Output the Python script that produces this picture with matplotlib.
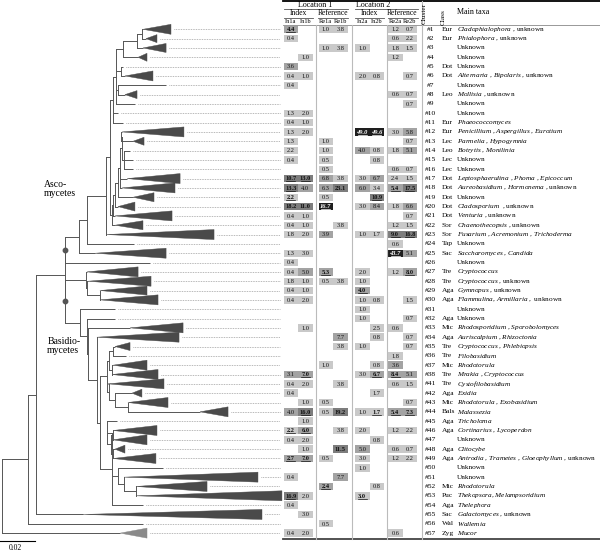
import matplotlib
matplotlib.use("Agg")
import matplotlib.pyplot as plt
from matplotlib.patches import Rectangle, Polygon

plt.rcParams['font.family'] = 'Liberation Serif'
plt.rcParams['mathtext.fontset'] = 'custom'
plt.rcParams['mathtext.rm'] = 'Liberation Serif'
plt.rcParams['mathtext.it'] = 'Liberation Serif:italic'
plt.rcParams['mathtext.bf'] = 'Liberation Serif:bold'

# ---- data -------------------------------------------------------------
clusters = list(range(1, 39)) + list(range(41, 58))

classes = {1: "Eur", 2: "Eur", 5: "Dot", 6: "Dot", 8: "Leo", 11: "Eur", 12: "Eur", 13: "Lec",
           14: "Leo", 15: "Lec", 16: "Lec", 17: "Dot", 18: "Dot", 19: "Dot", 20: "Dot", 21: "Dot",
           22: "Sor", 23: "Sor", 24: "Tap", 25: "Sac", 27: "Tre", 28: "Tre", 29: "Aga", 30: "Aga",
           32: "Aga", 33: "Mic", 34: "Aga", 35: "Tre", 36: "Tre", 37: "Mic", 38: "Tre", 41: "Tre",
           42: "Aga", 43: "Mic", 44: "Bals", 45: "Aga", 46: "Aga", 48: "Aga", 49: "Aga", 52: "Mic",
           53: "Puc", 54: "Aga", 55: "Sac", 56: "Wal", 57: "Zyg"}

taxa = {1: "$Cladophialophora$ , unknown", 2: "$Phialophora$ , unknown", 6: "$Alternaria$ , $Bipolaris$ , unknown",
        8: "$Mollisia$ , unknown", 11: "$Phaeococcomyces$", 12: "$Penicillium$ , $Aspergillus$ , $Eurotium$",
        13: "$Parmelia$ , $Hypogymnia$", 14: "$Botrytis$ , $Monilinia$",
        17: "$Leptosphaerulina$ , $Phoma$ , $Epicoccum$", 18: "$Aureobasidium$ , $Hormonema$ , unknown",
        20: "$Cladosporium$  , unknown", 21: "$Venturia$ , unknown", 22: "$Chaenothecopsis$ , unknown",
        23: "$Fusarium$ , $Acremonium$ , $Trichoderma$", 25: "$Saccharomyces$ , $Candida$",
        27: "$Cryptococcus$", 28: "$Cryptococcus$ , unknown", 29: "$Gymnopus$ , unknown",
        30: "$Flammulina$, $Armillaria$ ,  unknown", 33: "$Rhodosporidium$ , $Sporobolomyces$",
        34: "$Auriscalpium$ , $Rhizoctonia$", 35: "$Cryptococcus$ , $Phlebiopsis$", 36: "$Filobasidium$",
        37: "$Rhodotorula$", 38: "$Mrakia$ , $Cryptococcus$", 41: "$Cystofilobasidium$", 42: "$Exidia$",
        43: "$Rhodotorula$ , $Exobasidium$", 44: "$Malassezia$", 45: "$Tricholoma$",
        46: "$Cortinarius$ , $Lycoperdon$", 48: "$Clitocybe$",
        49: "$Antrodia$ , $Trametes$ , $Gloeophyllum$ , unknown", 52: "$Rhodotorula$",
        53: "$Thekopsora$, $Melampsoridium$", 54: "$Thelephora$", 55: "$Galactomyces$ , unknown",
        56: "$Wallemia$", 57: "$Mucor$"}

col_names = ["In1a", "In1b", "Re1a", "Re1b", "In2a", "In2b", "Re2a", "Re2b"]

In1a = {1: 4.4, 2: 0.4, 5: 3.6, 6: 0.4, 7: 0.4, 10: 1.3, 11: 0.4, 12: 1.3, 13: 1.3, 14: 2.2, 15: 0.4,
        17: 10.7, 18: 13.3, 19: 2.2, 20: 18.2, 21: 0.4, 22: 0.4, 23: 1.8, 25: 1.3, 26: 0.4, 27: 0.4,
        28: 1.8, 29: 0.4, 30: 0.4, 38: 3.1, 41: 0.4, 42: 0.4, 44: 4.0, 46: 2.2, 47: 0.4, 49: 2.7,
        51: 0.4, 53: 16.9, 54: 0.4, 57: 0.4}
In1b = {4: 1.0, 6: 1.0, 10: 2.0, 11: 1.0, 12: 2.0, 17: 13.0, 18: 4.0, 20: 11.0, 21: 1.0, 22: 1.0,
        23: 2.0, 25: 3.0, 27: 5.0, 28: 1.0, 29: 1.0, 30: 2.0, 33: 1.0, 38: 7.0, 41: 2.0, 43: 1.0,
        44: 16.0, 45: 1.0, 46: 6.0, 47: 2.0, 48: 1.0, 49: 7.0, 53: 2.0, 55: 3.0, 57: 2.0}
Re1a = {1: 1.0, 3: 1.0, 13: 1.0, 14: 1.0, 15: 0.5, 16: 0.5, 17: 6.8, 18: 6.3, 19: 0.5, 20: 16.7,
        23: 3.9, 27: 5.3, 28: 0.5, 37: 1.0, 43: 0.5, 44: 0.5, 49: 0.5, 52: 2.4, 56: 0.5}
Re1b = {1: 3.8, 3: 3.8, 17: 3.8, 18: 23.1, 22: 3.8, 28: 3.8, 34: 7.7, 35: 3.8, 41: 3.8, 44: 19.2,
        46: 3.8, 48: 11.5, 51: 7.7}
In2a = {3: 1.0, 6: 2.0, 12: 49.0, 14: 4.0, 17: 3.0, 18: 6.0, 20: 3.0, 23: 1.0, 27: 2.0, 28: 1.0,
        29: 4.0, 30: 1.0, 31: 1.0, 32: 1.0, 35: 1.0, 38: 3.0, 44: 1.0, 46: 2.0, 48: 5.0, 49: 3.0,
        50: 1.0, 53: 3.0}
In2b = {6: 0.8, 12: 49.6, 14: 0.8, 15: 0.8, 17: 6.7, 18: 3.4, 19: 10.9, 20: 8.4, 23: 1.7, 30: 0.8,
        33: 2.5, 34: 0.8, 37: 0.8, 38: 6.7, 42: 1.7, 44: 1.7, 47: 0.8, 52: 0.8}
Re2a = {1: 1.2, 2: 0.6, 3: 1.8, 4: 1.2, 8: 0.6, 12: 3.0, 14: 1.8, 16: 0.6, 17: 2.4, 18: 5.4, 20: 1.8,
        22: 1.2, 23: 9.0, 24: 0.6, 25: 43.7, 27: 1.2, 33: 0.6, 36: 1.8, 37: 3.6, 38: 8.4, 41: 0.6,
        44: 5.4, 46: 1.2, 48: 0.6, 49: 1.2, 57: 0.6}
Re2b = {1: 0.7, 2: 2.2, 3: 1.5, 6: 0.7, 8: 0.7, 9: 0.7, 12: 5.8, 13: 0.7, 14: 5.1, 16: 0.7, 17: 1.5,
        18: 17.5, 20: 6.6, 21: 0.7, 22: 1.5, 23: 16.8, 25: 5.1, 27: 8.0, 30: 1.5, 32: 0.7, 34: 0.7,
        35: 0.7, 38: 5.1, 41: 1.5, 43: 0.7, 44: 7.3, 46: 2.2, 48: 0.7, 49: 2.2}
columns = [In1a, In1b, Re1a, Re1b, In2a, In2b, Re2a, Re2b]

# shading limits per column (light / mid / dark / black)
shade_limits = [(2.5, 9, 30), (3.5, 9, 30), (2, 9, 15), (5, 10, 30),
                (3.5, 9, 30), (3.5, 9.5, 30), (3.5, 8.8, 30), (5.0, 9, 30)]

underlined = [(1, 0), (12, 4), (12, 5), (17, 0), (17, 1), (18, 0), (18, 6), (18, 7), (19, 0), (19, 5),
              (20, 2), (23, 6), (23, 7), (25, 6), (27, 2), (27, 7), (29, 4), (38, 1), (38, 5), (38, 6),
              (44, 1), (44, 5), (44, 6), (44, 7), (46, 0), (46, 1), (49, 0), (49, 1), (52, 2), (53, 0),
              (53, 4)]


# tree: distances from root in 0.001 substitutions per site
def N(x, *kids, dot=False):
    return {"x": x, "kids": list(kids), "dot": dot}


def L(c, x, tip=None, h=4.5):
    return {"c": c, "x": x, "tip": tip, "h": h}


asco = N(37.4,
         N(45.1,
           N(49.7,
             N(60.6,
               N(62.9,
                 N(64.6,
                   N(66.3,
                     N(70.1, N(78.1, N(81.0, L(1, 81.7, 97.7, 5), L(2, 83.4, 89.7, 4)), L(3, 81.7, 94.9)),
                       L(4, 78.9, 84.0, 4)),
                     N(69.1, L(5, 70.3), L(6, 71.4, 87.4, 5)),
                     N(67.4, L(7, 94.9), L(8, 71.4, 78.3, 4)),
                     L(9, 77.1)),
                   L(10, 67.4), L(11, 70.3)),
                 N(64.0,
                   N(64.6,
                     N(65.7,
                       N(67.4,
                         N(68.6,
                           N(69.7, N(69.1, L(12, 69.7, 105.1, 5), L(13, 76.0, 82.3, 4)),
                             N(70.9, L(14, 74.3), L(15, 76.0), L(16, 76.0))),
                           L(17, 72.6, 102.9, 5), L(18, 69.7, 100.0, 5)),
                         L(19, 76.0, 88.0)),
                       L(20, 67.4, 77.1)),
                     L(21, 65.7, 98.3, 5)),
                   L(22, 65.7, 81.7))),
               L(23, 60.6, 122.3, 5)),
             L(24, 76.6)),
           L(25, 54.3, 94.9, 5)),
         L(26, 85.7), dot=True)

basidio = N(37.4,
            N(49.1, L(27, 49.7, 78.9, 5),
              N(49.7, L(28, 50.3, 86.3, 5), N(57.1, L(29, 57.1, 84.0), L(30, 57.1, 90.3, 5)))),
            N(45.7, L(31, 65.7),
              N(49.7, L(32, 65.7),
                N(50.3, L(33, 74.3, 104.6, 5),
                  N(55.4, L(34, 55.4, 102.3, 5),
                    N(57.1,
                      N(61.1,
                        N(62.3, N(64.6, L(35, 65.7, 74.3, 4), L(36, 72.0)),
                          N(64.0, L(37, 64.6, 84.0, 5), L(38, 64.0, 90.3, 5))),
                        N(62.3, L(41, 61.7, 93.7, 5),
                          N(65.7, L(42, 75.4, 81.1, 4),
                            N(73.1, L(43, 73.1, 96.0, 5), L(44, 114.3, 130.3, 5))))),
                      N(64.0,
                        N(61.1, L(45, 66.9),
                          N(63.4, N(64.6, L(46, 64.6, 89.7, 5), L(47, 64.6, 84.0, 5)),
                            N(64.6, L(48, 65.7, 71.4, 4), L(49, 64.6, 89.1, 5)))),
                        N(67.4, L(50, 93.1),
                          N(70.9, L(51, 70.9, 147.4, 5),
                            N(77.7, L(52, 77.7, 118.3, 5), L(53, 77.7, 161.1, 5)))),
                        L(54, 81.7))))))),
            dot=True)

tree = N(0.9,
         N(16.0,
           N(20.4, N(37.1, asco, basidio), L(55, 47.4, 149.7, 5)),
           L(56, 81.7)),
         L(57, 68.6, 84.0, 5))

# ---- layout -----------------------------------------------------------
fig = plt.figure(figsize=(6.0, 5.51), dpi=100)
ax = fig.add_axes([0, 0, 1, 1])
ax.set_xlim(0, 600)
ax.set_ylim(551, 0)
ax.axis("off")

tax = fig.add_axes([0, 0, 283 / 600, 1])
tax.set_xlim(0, 161.7)
tax.set_ylim(551, 0)
tax.axis("off")
tax.patch.set_alpha(0)


def row_y(c):
    return 29.3 + 9.33 * clusters.index(c)


line_col = "#555555"
tri_col = "#4a4a4a"


def draw(node, px):
    if "c" in node:
        y = row_y(node["c"])
        tax.plot([px, node["x"]], [y, y], color=line_col, lw=0.7, solid_capstyle="butt")
        end = node["x"]
        if node["tip"] is not None:
            col = "#8a8a8a" if node["c"] == 57 else tri_col
            tax.add_patch(Polygon([(node["x"], y), (node["tip"], y - node["h"]), (node["tip"], y + node["h"])],
                                  closed=True, facecolor=col, edgecolor=col, lw=0.3))
            end = node["tip"]
        if end < 159:
            tax.plot([end + 1.5, 160], [y, y], color="#777777", lw=0.5, ls=(0, (1, 1.4)))
        return y
    ys = [draw(k, node["x"]) for k in node["kids"]]
    tax.plot([node["x"], node["x"]], [min(ys), max(ys)], color=line_col, lw=0.7)
    y = (ys[0] + ys[-1]) / 2
    tax.plot([px, node["x"]], [y, y], color=line_col, lw=0.7, solid_capstyle="butt")
    if node["dot"]:
        tax.plot(node["x"], y, "o", color="#555555", ms=3.2)
    return y


draw(tree, tree["x"])

# scale bar
tax.plot([0.2, 20.2], [541, 541], color="black", lw=0.8)
tax.text(8.5, 548.5, "0.02", ha="center", va="center", fontsize=5.5)

tax.text(25, 189, "Asco-\nmycetes", ha="left", va="center", fontsize=7, linespacing=1.0)
tax.text(27, 346, "Basidio-\nmycetes", ha="left", va="center", fontsize=7, linespacing=1.0)

# ---- table ------------------------------------------------------------
col_x = [283.5, 298, 318.5, 333, 355, 369.5, 388, 402.5]
cw, ch = 14.5, 7.4
shades = ["#c9c9c9", "#a3a3a3", "#7d7d7d", "#1e1e1e"]

for j, col in enumerate(columns):
    for c, v in col.items():
        y = row_y(c)
        lev = sum(v >= t for t in shade_limits[j])
        ax.add_patch(Rectangle((col_x[j], y - ch / 2), cw, ch, facecolor=shades[lev], edgecolor="none"))
        txt = "%.1f" % v
        ul = (c, j) in underlined
        tcol = "white" if lev == 3 else "#111111"
        weight = "bold" if lev >= 2 or ul else "normal"
        style = "italic" if lev == 3 else "normal"
        ax.text(col_x[j] + cw / 2, y + 0.3, txt, ha="center", va="center", fontsize=4.6,
                color=tcol, fontweight=weight, fontstyle=style)
        if ul:
            ax.plot([col_x[j] + cw / 2 - 4.5, col_x[j] + cw / 2 + 4.5], [y + 2.9, y + 2.9],
                    color=tcol, lw=0.5)

for c in clusters:
    y = row_y(c)
    ax.text(430.5, y, "#%d" % c, ha="center", va="center", fontsize=5.4)
    if c in classes:
        ax.text(442, y, classes[c], ha="left", va="center", fontsize=5.4)
    ax.text(457, y, taxa.get(c, "Unknown"), ha="left", va="center", fontsize=5.2)

# header and rules
ax.plot([283, 600], [1.2, 1.2], color="black", lw=1.3)
ax.plot([283, 600], [539, 539], color="#444444", lw=1.3)
ax.plot([283, 600], [25.3, 25.3], color="#888888", lw=0.6)
for x0, x1 in [(284, 348), (355, 418)]:
    ax.plot([x0, x1], [9.3, 9.3], color="#555555", lw=0.6)
for x0, x1 in [(284, 313), (318, 348), (355, 384), (388, 418)]:
    ax.plot([x0, x1], [17.5, 17.5], color="#555555", lw=0.6)
for xv in [316, 352, 386.5]:
    ax.plot([xv, xv], [25.3, 539], color="#bbbbbb", lw=0.8)
ax.plot([421.5, 421.5], [1.2, 539], color="#bbbbbb", lw=0.8)

ax.text(315, 5.3, "Location 1", ha="center", va="center", fontsize=5.8)
ax.text(373, 5.3, "Location 2", ha="center", va="center", fontsize=5.8)
for xc, lab in [(298.5, "Index"), (333, "Reference"), (369.5, "Index"), (402.5, "Reference")]:
    ax.text(xc, 13.4, lab, ha="center", va="center", fontsize=5.5)
for j, name in enumerate(col_names):
    ax.text(col_x[j] + cw / 2, 21.5, name, ha="center", va="center", fontsize=4.6)
ax.text(424, 13, "Cluster", rotation=90, ha="center", va="center", fontsize=5.2)
ax.text(443.5, 17, "Class", rotation=90, ha="center", va="center", fontsize=5.2)
ax.text(457, 12.5, "Main taxa", ha="left", va="center", fontsize=5.8)

fig.savefig("out.png", dpi=100)
